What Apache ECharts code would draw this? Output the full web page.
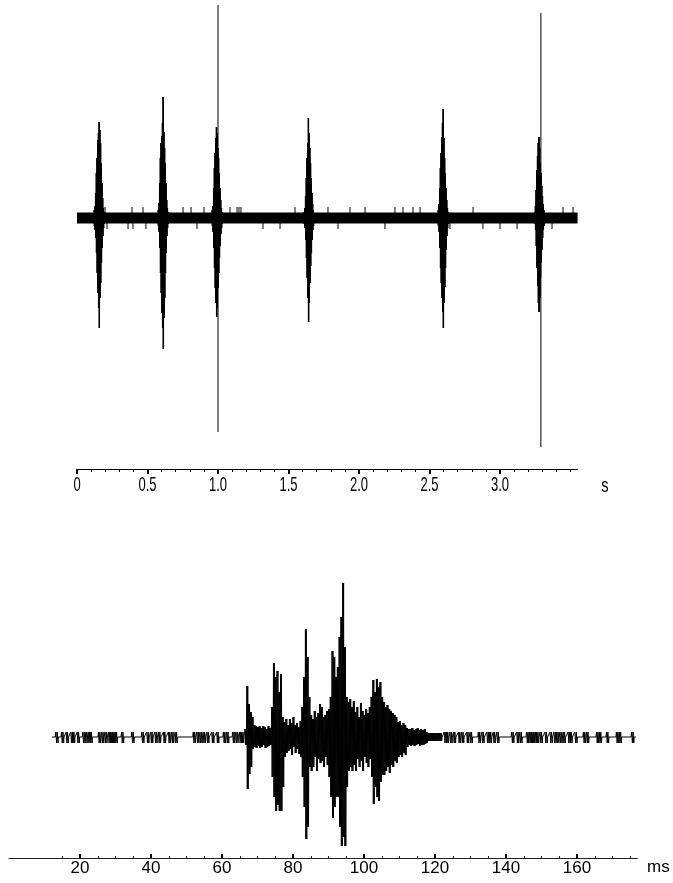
<!DOCTYPE html>
<html><head><meta charset="utf-8">
<script src="https://cdn.jsdelivr.net/npm/echarts@6/dist/echarts.min.js"></script>
<style>html,body{margin:0;padding:0;background:#fff}#c{width:673px;height:883px}</style>
</head><body><div id="c"></div>
<script>
// ================= TOP PANEL (time in s) =================
const topLabelTicks = [0, 0.5, 1.0, 1.5, 2.0, 2.5, 3.0];
const topMinorTicks = [0,0.1,0.2,0.3,0.4,0.5,0.6,0.7,0.8,0.9,1.0,1.1,1.2,1.3,1.4,1.5,1.6,1.7,1.8,1.9,2.0,2.1,2.2,2.3,2.4,2.5,2.6,2.7,2.8,2.9,3.0,3.1,3.2,3.3,3.4,3.5];
const topUnit = 's';
const topStart = 0, topEnd = 3.55;
const topYMin = -251, topYMax = 214;
const topBandHalf = 5.5;             // noise floor half-thickness (amplitude units)
const burstCenters = [0.156, 0.61, 0.993, 1.645, 2.596, 3.28];
const burstOffsets = [-0.035,-0.03,-0.025,-0.02,-0.015,-0.01,-0.005,0,0.005,0.01,0.015,0.02,0.025,0.03,0.035];
const burstUpper1 = [8,12,25,45,60,78,85,96,88,75,55,35,20,10,6];
const burstLower1 = [-8,-12,-20,-35,-55,-75,-90,-110,-80,-65,-45,-30,-18,-10,-6];
const burstUpper2 = [8,15,35,60,75,82,95,121,86,70,55,35,18,10,6];
const burstLower2 = [-8,-14,-30,-55,-75,-95,-110,-131,-100,-80,-55,-35,-18,-10,-6];
const burstUpper3 = [8,12,30,50,65,80,91,85,70,60,45,30,18,10,6];
const burstLower3 = [-8,-14,-30,-50,-70,-85,-99,-90,-70,-55,-40,-28,-16,-10,-6];
const burstUpper4 = [6,10,22,40,60,75,100,85,70,55,40,25,14,8,5];
const burstLower4 = [-6,-10,-22,-40,-60,-80,-104,-85,-65,-48,-35,-22,-12,-8,-5];
const burstUpper5 = [8,14,30,50,65,81,95,109,80,60,45,30,18,10,6];
const burstLower5 = [-8,-14,-30,-50,-65,-80,-94,-110,-85,-69,-50,-32,-18,-10,-6];
const burstUpper6 = [6,12,28,48,62,75,81,70,55,45,32,22,14,8,5];
const burstLower6 = [-6,-12,-28,-50,-68,-85,-94,-80,-60,-45,-32,-20,-12,-8,-5];
const spikeTimes = [1.0, 3.29];
const spikeUp = [213, 205];
const spikeDown = [-214, -229];
const noiseTicksAbove = [0.199,0.39,0.468,0.752,0.809,0.901,1.085,1.135,1.149,1.163,1.546,1.78,1.936,2.043,2.255,2.312,2.383,2.433,2.809,3.447,3.518];
const noiseTicksBelow = [0.213,0.362,0.397,0.489,0.851,1.014,1.319,1.44,1.851,2.184,2.645,2.879,3.0,3.121,3.369];
const noiseTickLen = 5.5;

// ================= BOTTOM PANEL (time in ms) =================
const bottomLabelTicks = [20, 40, 60, 80, 100, 120, 140, 160];
const bottomMinorTicks = [15,20,25,30,35,40,45,50,55,60,65,70,75,80,85,90,95,100,105,110,115,120,125,130,135,140,145,150,155,160,165,170,175];
const bottomUnit = 'ms';
const bottomAxisMin = 0, bottomAxisMax = 177;
const sigStart = 12.1, sigEnd = 176.6;
const preNoiseTimes = [13.2,14.8,16.1,17.4,17.9,19.2,20.8,21.4,22.3,22.8,25.2,26.1,27.0,28.0,28.6,29.2,29.9,31.7,34.6,37.4,38.8,39.9,41.1,42.1,43.5,44.9,45.8,46.8,51.9,52.9,53.8,54.7,55.7,57.1,58.5,60.4,61.3,63.0,63.9,64.9,65.5];
const postNoiseTimes = [122.6,123.2,124.2,125.2,126.6,127.5,128.9,129.9,132.2,133.2,134.6,135.3,136.4,137.4,141.6,143.0,143.9,145.8,146.6,147.2,147.9,148.6,149.6,151.0,152.4,153.5,154.3,155.2,156.1,157.5,158.0,159.4,161.8,162.7,165.5,166.3,168.3,171.1,171.9,175.4];
const noiseUp = 5, noiseDown = -6;
const burstMsStart = 66.0, burstMsStep = 0.5;
const burstMsUpper = [0,8,51,33,25,20,12,11,10,11,9,11,10,8,11,9,30,74,60,66,45,63,20,15,18,12,18,14,20,12,14,10,16,30,60,108,80,40,22,18,26,20,24,33,30,20,22,26,28,40,86,80,60,70,100,120,154,90,40,35,38,30,36,25,30,20,34,26,22,28,24,30,40,57,45,58,50,55,40,35,30,32,28,26,24,22,20,15,16,12,14,12,9,8,8,9,7,8,9,7,8,7,8,5,4,4,4,4,4,4,4,4,0];
const burstMsLower = [0,-8,-52,-37,-30,-12,-10,-11,-9,-11,-10,-8,-11,-10,-9,-8,-40,-60,-74,-68,-74,-74,-50,-20,-16,-14,-12,-18,-10,-16,-12,-17,-20,-40,-70,-102,-90,-30,-34,-30,-20,-34,-22,-26,-24,-30,-20,-28,-40,-60,-81,-70,-60,-60,-90,-109,-100,-109,-50,-34,-30,-34,-28,-34,-22,-30,-24,-34,-20,-26,-30,-22,-40,-67,-50,-60,-64,-45,-38,-38,-34,-30,-36,-28,-30,-24,-26,-20,-18,-20,-16,-18,-10,-8,-9,-8,-9,-8,-7,-9,-8,-8,-7,-6,-4,-4,-4,-4,-4,-4,-4,-4,0];

// ---------- build series data ----------
const burstUppers = [burstUpper1,burstUpper2,burstUpper3,burstUpper4,burstUpper5,burstUpper6];
const burstLowers = [burstLower1,burstLower2,burstLower3,burstLower4,burstLower5,burstLower6];
const bStep = burstOffsets[1] - burstOffsets[0];
const topSignal = [[topStart, 0]];
burstCenters.forEach((c, b) => {
  topSignal.push([c + burstOffsets[0] - bStep / 2, 0]);
  burstOffsets.forEach((o, i) => {
    topSignal.push([c + o, burstUppers[b][i]]);
    topSignal.push([c + o + bStep / 4, burstLowers[b][i]]);
    topSignal.push([c + o + bStep / 2, burstUppers[b][i]]);
    topSignal.push([c + o + 3 * bStep / 4, burstLowers[b][i]]);
  });
  topSignal.push([c + burstOffsets[burstOffsets.length - 1] + bStep, 0]);
});
topSignal.push([topEnd, 0]);

const topSegments = [];
spikeTimes.forEach((t, i) => topSegments.push([t, spikeDown[i], spikeUp[i]]));
noiseTicksAbove.forEach(t => topSegments.push([t, topBandHalf - 0.5, topBandHalf + noiseTickLen]));
noiseTicksBelow.forEach(t => topSegments.push([t, -topBandHalf - noiseTickLen, -topBandHalf + 0.5]));

const bottomSignal = [[sigStart, 0]];
function addBlip(t) {
  bottomSignal.push([t - 0.15, 0], [t, noiseUp], [t + 0.2, noiseDown], [t + 0.4, noiseUp], [t + 0.6, noiseDown], [t + 0.7, 0]);
}
preNoiseTimes.forEach(addBlip);
burstMsUpper.forEach((u, i) => {
  const t = burstMsStart + i * burstMsStep;
  const l = burstMsLower[i];
  bottomSignal.push([t, u], [t + burstMsStep / 4, l], [t + burstMsStep / 2, u], [t + 3 * burstMsStep / 4, l]);
});
postNoiseTimes.forEach(addBlip);
bottomSignal.push([sigEnd, 0]);

const segRender = (params, api) => {
  const p1 = api.coord([api.value(0), api.value(1)]);
  const p2 = api.coord([api.value(0), api.value(2)]);
  return { type: 'line', shape: { x1: p1[0], y1: p1[1], x2: p2[0], y2: p2[1] },
           style: { stroke: '#000', lineWidth: 1 } };
};
// tall, narrow tick labels of the upper axis
const topLabelRender = (params, api) => {
  const v = api.value(0);
  const p = api.coord([v, api.value(1)]);
  return { type: 'text', x: p[0], y: p[1] + 16, scaleX: 0.62,
           style: { text: v === 0 ? '0' : v.toFixed(1), fill: '#000', align: 'center', verticalAlign: 'middle',
                    font: "21px 'Liberation Sans',Arial,sans-serif" } };
};

const chart = echarts.init(document.getElementById('c'), null, { renderer: 'canvas' });
chart.setOption({
  animation: false,
  backgroundColor: '#fff',
  grid: [
    { left: 77, top: 4, width: (topEnd - topStart) * 141, height: 465 },
    { left: 9, top: 570, width: (bottomAxisMax - bottomAxisMin) * 3.55, height: 288 }
  ],
  xAxis: [
    { type: 'value', gridIndex: 0, min: topStart, max: topEnd, position: 'bottom',
      splitLine: { show: false },
      axisLine: { show: true, onZero: false, lineStyle: { color: '#000', width: 1 } },
      axisTick: { show: true, customValues: topMinorTicks, length: 3, lineStyle: { color: '#000', width: 1 } },
      axisLabel: { show: false } },
    { type: 'value', gridIndex: 0, min: topStart, max: topEnd, position: 'bottom',
      splitLine: { show: false },
      axisLine: { show: false, onZero: false },
      axisTick: { show: true, customValues: topLabelTicks, length: 5, lineStyle: { color: '#000', width: 2 } },
      axisLabel: { show: false } },
    { type: 'value', gridIndex: 1, min: bottomAxisMin, max: bottomAxisMax, position: 'bottom',
      splitLine: { show: false },
      axisLine: { show: true, onZero: false, lineStyle: { color: '#222', width: 1 } },
      axisTick: { show: true, inside: true, customValues: bottomMinorTicks, length: 2, lineStyle: { color: '#222', width: 1 } },
      axisLabel: { show: false } },
    { type: 'value', gridIndex: 1, min: bottomAxisMin, max: bottomAxisMax, position: 'bottom',
      splitLine: { show: false },
      axisLine: { show: false, onZero: false },
      axisTick: { show: true, inside: true, customValues: bottomLabelTicks, length: 4, lineStyle: { color: '#000', width: 2 } },
      axisLabel: { show: true, customValues: bottomLabelTicks, margin: 2, color: '#000', fontSize: 17,
        fontFamily: "'Liberation Sans',Arial,sans-serif" } }
  ],
  yAxis: [
    { type: 'value', gridIndex: 0, min: topYMin, max: topYMax, show: false },
    { type: 'value', gridIndex: 1, min: -121, max: 167, show: false }
  ],
  graphic: [
    { type: 'text', x: 605, y: 486, scaleX: 0.7,
      style: { text: topUnit, fill: '#000', align: 'center', verticalAlign: 'middle', font: "21px 'Liberation Sans',Arial,sans-serif" } },
    { type: 'text', left: 647, top: 859, style: { text: bottomUnit, fill: '#000', font: "17px 'Liberation Sans',Arial,sans-serif" } }
  ],
  series: [
    { type: 'line', xAxisIndex: 0, yAxisIndex: 0, showSymbol: false, silent: true,
      data: [[topStart, topBandHalf], [topEnd, topBandHalf]],
      lineStyle: { width: 0 }, areaStyle: { color: '#000', opacity: 1 } },
    { type: 'line', xAxisIndex: 0, yAxisIndex: 0, showSymbol: false, silent: true,
      data: [[topStart, -topBandHalf], [topEnd, -topBandHalf]],
      lineStyle: { width: 0 }, areaStyle: { color: '#000', opacity: 1 } },
    { type: 'line', xAxisIndex: 0, yAxisIndex: 0, showSymbol: false, silent: true,
      data: topSignal, lineStyle: { color: '#000', width: 1 } },
    { type: 'custom', xAxisIndex: 0, yAxisIndex: 0, silent: true,
      data: topSegments, renderItem: segRender },
    { type: 'custom', xAxisIndex: 0, yAxisIndex: 0, silent: true, clip: false,
      data: topLabelTicks.map(v => [v, topYMin]), renderItem: topLabelRender },
    { type: 'line', xAxisIndex: 2, yAxisIndex: 1, showSymbol: false, silent: true,
      data: bottomSignal, lineStyle: { color: '#000', width: 1 } }
  ]
});
</script></body></html>
